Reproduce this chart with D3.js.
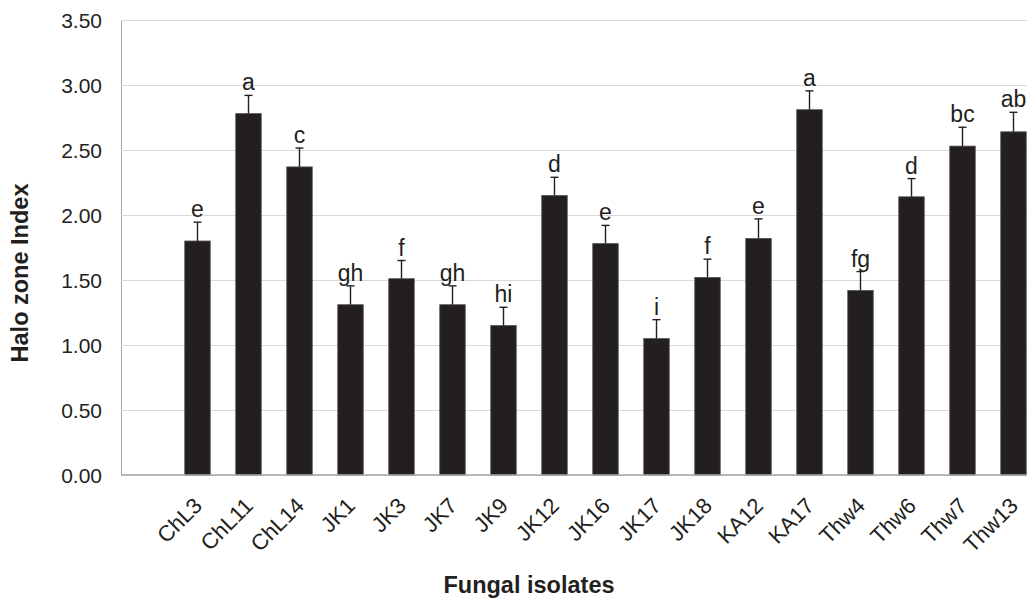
<!DOCTYPE html>
<html>
<head>
<meta charset="utf-8">
<script src="https://cdn.jsdelivr.net/npm/d3@7"></script>
<style>
  html, body { margin: 0; padding: 0; background: #fff; overflow: hidden; }
  svg { display: block; font-family: "Liberation Sans", Arial, sans-serif; }
</style>
</head>
<body>
<svg id="chart" width="1027" height="598"></svg>
<script>
const isolates = ['ChL3', 'ChL11', 'ChL14', 'JK1', 'JK3', 'JK7', 'JK9', 'JK12', 'JK16',
  'JK17', 'JK18', 'KA12', 'KA17', 'Thw4', 'Thw6', 'Thw7', 'Thw13'];
const haloIndex = [1.80, 2.78, 2.37, 1.31, 1.51, 1.31, 1.15, 2.15, 1.78,
  1.05, 1.52, 1.82, 2.81, 1.42, 2.14, 2.53, 2.64];
const stdErr = [0.145, 0.14, 0.145, 0.145, 0.14, 0.145, 0.14, 0.14, 0.14,
  0.145, 0.14, 0.15, 0.145, 0.145, 0.14, 0.145, 0.15];
const groups = ['e', 'a', 'c', 'gh', 'f', 'gh', 'hi', 'd', 'e',
  'i', 'f', 'e', 'a', 'fg', 'd', 'bc', 'ab'];
const yTicks = [0, 0.5, 1, 1.5, 2, 2.5, 3, 3.5];

const data = isolates.map((name, i) => ({
  name,
  value: haloIndex[i],
  err: stdErr[i],
  group: groups[i],
}));

const svg = d3.select('#chart');
const ink = '#231f20';

// plot box (right side runs past the picture edge, like the source)
const plotLeft = 121, plotTop = 20, plotBottom = 475, plotRight = 1039;
const slot = (plotRight - plotLeft) / 18;

const x = d3.scaleBand()
  .domain(isolates)
  .range([plotLeft + slot, plotRight])
  .paddingInner(0.5)
  .paddingOuter(0.25);

const y = d3.scaleLinear().domain([0, 3.5]).range([plotBottom, plotTop]);

// grid + y axis
const yAxis = svg.append('g')
  .attr('transform', `translate(${plotLeft},0)`)
  .call(d3.axisLeft(y)
    .tickValues(yTicks)
    .tickFormat(d3.format('.2f'))
    .tickSize(-(plotRight - plotLeft))
    .tickSizeOuter(0)
    .tickPadding(19));

yAxis.select('.domain').attr('stroke', '#a6a6a6');
yAxis.selectAll('.tick line').attr('stroke', '#d9d9d9').attr('stroke-width', 1.2);
yAxis.selectAll('.tick text')
  .attr('fill', ink)
  .attr('font-size', 21)
  .attr('dy', '0.34em');

// bars
svg.append('g')
  .selectAll('rect')
  .data(data)
  .join('rect')
    .attr('x', d => x(d.name))
    .attr('y', d => y(d.value))
    .attr('width', x.bandwidth())
    .attr('height', d => y(0) - y(d.value))
    .attr('fill', ink)
    .attr('stroke', '#555')
    .attr('stroke-width', 0.8);

// error bars
const errG = svg.append('g')
  .attr('stroke', ink)
  .attr('stroke-width', 1.4);

errG.selectAll('line.stem')
  .data(data)
  .join('line')
    .attr('class', 'stem')
    .attr('x1', d => x(d.name) + x.bandwidth() / 2)
    .attr('x2', d => x(d.name) + x.bandwidth() / 2)
    .attr('y1', d => y(d.value))
    .attr('y2', d => y(d.value + d.err));

errG.selectAll('line.cap')
  .data(data)
  .join('line')
    .attr('class', 'cap')
    .attr('x1', d => x(d.name) + x.bandwidth() / 2 - 4)
    .attr('x2', d => x(d.name) + x.bandwidth() / 2 + 4)
    .attr('y1', d => y(d.value + d.err))
    .attr('y2', d => y(d.value + d.err));

// significance letters
svg.append('g')
  .selectAll('text')
  .data(data)
  .join('text')
    .attr('x', d => x(d.name) + x.bandwidth() / 2)
    .attr('y', d => y(d.value + d.err) - 5)
    .attr('text-anchor', 'middle')
    .attr('font-size', 23)
    .attr('fill', ink)
    .text(d => d.group);

// x axis line
svg.append('line')
  .attr('x1', plotLeft)
  .attr('x2', plotRight)
  .attr('y1', plotBottom)
  .attr('y2', plotBottom)
  .attr('stroke', '#a6a6a6')
  .attr('stroke-width', 1.5);

// rotated category labels
svg.append('g')
  .selectAll('text')
  .data(isolates)
  .join('text')
    .attr('transform', d => `translate(${x(d) + x.bandwidth() / 2 + 6},${plotBottom + 32}) rotate(-45)`)
    .attr('text-anchor', 'end')
    .attr('font-size', 22)
    .attr('fill', ink)
    .text(d => d);

// axis titles
svg.append('text')
  .attr('transform', 'translate(28,273) rotate(-90)')
  .attr('text-anchor', 'middle')
  .attr('font-size', 23.5)
  .attr('font-weight', 'bold')
  .attr('fill', ink)
  .text('Halo zone Index');

svg.append('text')
  .attr('x', 529)
  .attr('y', 593)
  .attr('text-anchor', 'middle')
  .attr('font-size', 23.5)
  .attr('font-weight', 'bold')
  .attr('fill', ink)
  .text('Fungal isolates');
</script>
</body>
</html>
